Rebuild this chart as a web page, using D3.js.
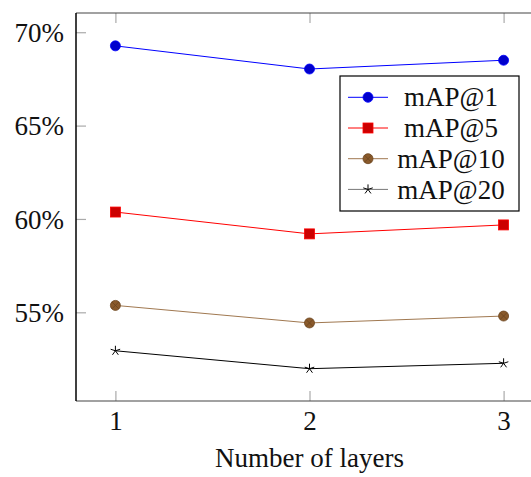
<!DOCTYPE html>
<html>
<head>
<meta charset="utf-8">
<script src="https://cdn.jsdelivr.net/npm/d3@7"></script>
<style>
  body { margin: 0; background: #fff; }
</style>
</head>
<body>
<div id="chart"></div>
<script>
// data
var layers = [1, 2, 3];
var map1 = [69.27, 68.03, 68.5];
var map5 = [60.37, 59.2, 59.68];
var map10 = [55.37, 54.43, 54.8];
var map20 = [52.94, 51.98, 52.27];
var yTicks = [55, 60, 65, 70];
var seriesNames = ["mAP@1", "mAP@5", "mAP@10", "mAP@20"];

var svgWidth = 531;
var svgHeight = 477;
var serif = '"Liberation Serif"';

var margin = { top: 13, right: -12, bottom: 76, left: 76 };
var width = svgWidth - margin.left - margin.right;
var height = svgHeight - margin.top - margin.bottom;

var svg = d3.select("#chart")
  .append("svg")
  .attr("width", svgWidth)
  .attr("height", svgHeight);

var chartGroup = svg.append("g")
  .attr("transform", `translate(${margin.left}, ${margin.top})`);

var xScale = d3.scaleLinear()
  .domain([0.797, 3.203])
  .range([0, width]);

var yScale = d3.scaleLinear()
  .domain([50.25, 71.03])
  .range([height, 0]);

var series = [
  { name: seriesNames[0], values: map1, line: "#0000ff", fill: "#0000cc", marker: "circle" },
  { name: seriesNames[1], values: map5, line: "#ff0000", fill: "#cc0000", marker: "square" },
  { name: seriesNames[2], values: map10, line: "#a07850", fill: "#8a5a2b", marker: "otimes" },
  { name: seriesNames[3], values: map20, line: "#000000", fill: "#000000", marker: "star" }
];

// ticks (inward, on every side)
var bottomAxis = d3.axisBottom(xScale).tickValues(layers).tickSize(-10).tickPadding(10).tickFormat(d3.format("d"));
var topAxis = d3.axisTop(xScale).tickValues(layers).tickSize(-10).tickFormat("");
var leftAxis = d3.axisLeft(yScale).tickValues(yTicks).tickSize(-10).tickPadding(12).tickFormat(d => d + "%");

var gx = chartGroup.append("g")
  .attr("transform", `translate(0, ${height})`)
  .call(bottomAxis);
var gt = chartGroup.append("g").call(topAxis);
var gy = chartGroup.append("g").call(leftAxis);

[gx, gt, gy].forEach(function(g) {
  g.attr("font-family", null).attr("font-size", null);
  g.selectAll(".domain").remove();
  g.selectAll(".tick line").attr("stroke", "#aaa").attr("stroke-width", 1.2);
  g.selectAll("text")
    .style("font-family", serif)
    .style("font-size", "27px")
    .attr("fill", "#111");
});
gy.selectAll("text").attr("dy", "0.34em");
gx.selectAll("text").attr("dy", "0.72em");

// frame
chartGroup.append("line").attr("x1", 0).attr("x2", width).attr("y1", 0).attr("y2", 0)
  .attr("stroke", "#444").attr("stroke-width", 1.2);
chartGroup.append("line").attr("x1", 0).attr("x2", width).attr("y1", height).attr("y2", height)
  .attr("stroke", "#444").attr("stroke-width", 1.2);
chartGroup.append("line").attr("x1", 0).attr("x2", 0).attr("y1", 0).attr("y2", height)
  .attr("stroke", "#000").attr("stroke-width", 1.5);

function drawMarker(g, type, x, y, s) {
  if (type === "circle") {
    g.append("circle").attr("cx", x).attr("cy", y).attr("r", 5)
      .attr("fill", s.fill).attr("stroke", s.line).attr("stroke-width", 0.8);
  } else if (type === "square") {
    g.append("rect").attr("x", x - 5).attr("y", y - 5).attr("width", 10).attr("height", 10)
      .attr("fill", s.fill).attr("stroke", s.line).attr("stroke-width", 0.8);
  } else if (type === "otimes") {
    g.append("circle").attr("cx", x).attr("cy", y).attr("r", 5)
      .attr("fill", s.fill).attr("stroke", "#6b4520").attr("stroke-width", 0.8);
    var d = 3.5;
    g.append("path")
      .attr("d", `M${x - d},${y - d}L${x + d},${y + d}M${x - d},${y + d}L${x + d},${y - d}`)
      .attr("stroke", "#6b4520").attr("stroke-width", 0.8);
  } else {
    var p = "";
    for (var k = 0; k < 5; k++) {
      var a = -Math.PI / 2 + k * 2 * Math.PI / 5;
      p += `M${x},${y}L${x + 5 * Math.cos(a)},${y + 5 * Math.sin(a)}`;
    }
    g.append("path").attr("d", p).attr("stroke", "#000").attr("stroke-width", 1);
  }
}

var line = d3.line()
  .x((d, i) => xScale(layers[i]))
  .y(d => yScale(d));

series.forEach(function(s) {
  var g = chartGroup.append("g");
  g.append("path")
    .datum(s.values)
    .attr("d", line)
    .attr("fill", "none")
    .attr("stroke", s.line)
    .attr("stroke-width", 1);
  s.values.forEach(function(v, i) {
    drawMarker(g, s.marker, xScale(layers[i]), yScale(v), s);
  });
});

// legend
var legend = svg.append("g").attr("transform", "translate(340, 76)");
legend.append("rect")
  .attr("x", 0).attr("y", 0).attr("width", 179).attr("height", 135)
  .attr("fill", "#fff").attr("stroke", "#000").attr("stroke-width", 1.2);

series.forEach(function(s, i) {
  var y = 21.3 + i * 30.7;
  var lc = s.marker === "star" ? "#777" : s.line;
  legend.append("line").attr("x1", 8).attr("x2", 48).attr("y1", y).attr("y2", y)
    .attr("stroke", lc).attr("stroke-width", 1);
  drawMarker(legend, s.marker, 28, y, s);
  legend.append("text")
    .attr("x", 111).attr("y", y)
    .attr("dy", "0.34em")
    .attr("text-anchor", "middle")
    .style("font-family", serif)
    .style("font-size", "27px")
    .attr("fill", "#111")
    .text(s.name);
});

// axis label
svg.append("text")
  .attr("x", margin.left + xScale(2))
  .attr("y", 467)
  .attr("text-anchor", "middle")
  .style("font-family", serif)
  .style("font-size", "27px")
  .attr("fill", "#111")
  .text("Number of layers");
</script>
</body>
</html>
